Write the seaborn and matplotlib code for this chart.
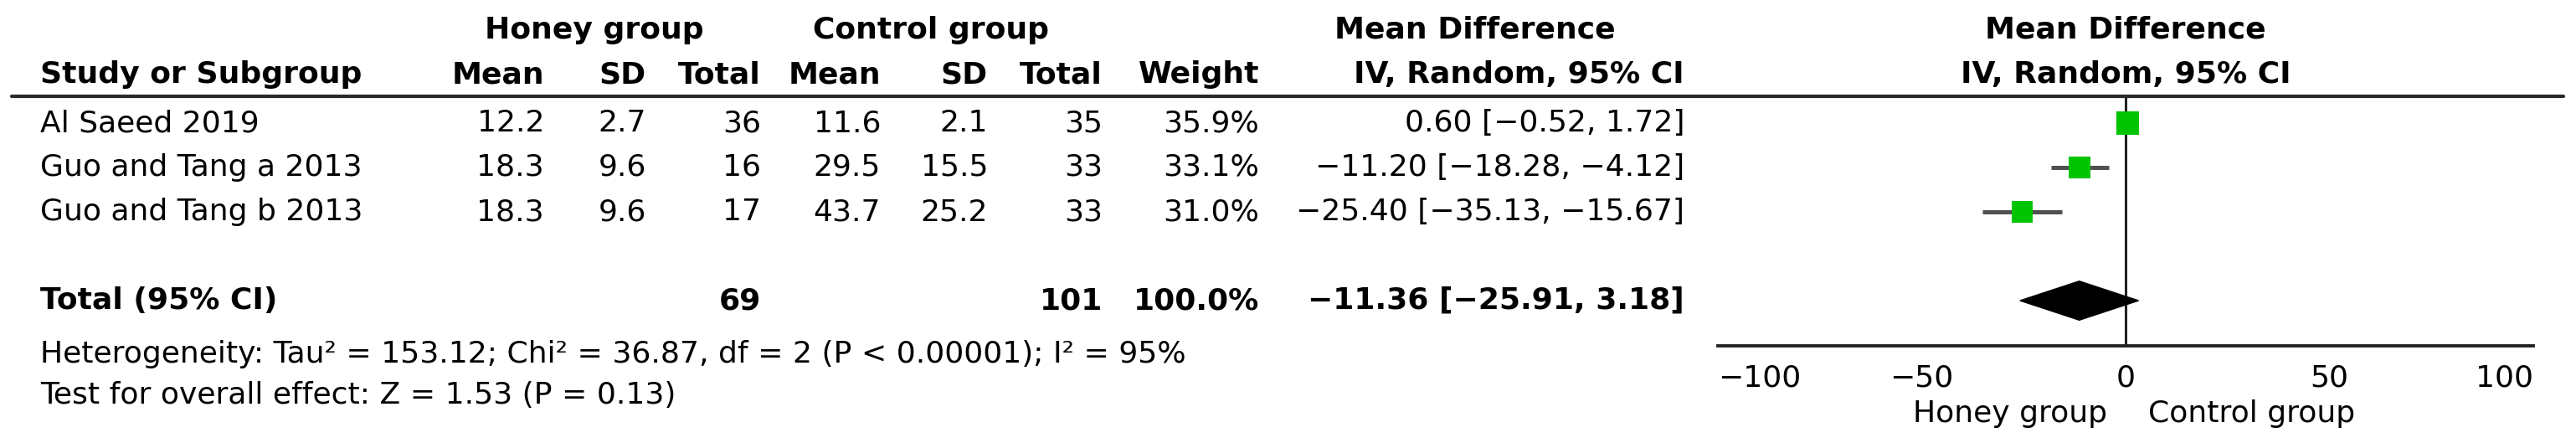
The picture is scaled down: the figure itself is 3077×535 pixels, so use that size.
import matplotlib
matplotlib.use('Agg')
import matplotlib.pyplot as plt
import matplotlib.transforms as mtransforms
from matplotlib.lines import Line2D
import pandas as pd
import seaborn as sns

# data
studies = ["Al Saeed 2019", "Guo and Tang a 2013", "Guo and Tang b 2013"]
honey_mean = [12.2, 18.3, 18.3]
honey_sd = [2.7, 9.6, 9.6]
honey_n = [36, 16, 17]
ctrl_mean = [11.6, 29.5, 43.7]
ctrl_sd = [2.1, 15.5, 25.2]
ctrl_n = [35, 33, 33]
weight = [35.9, 33.1, 31.0]
md = [0.60, -11.20, -25.40]
ci_lo = [-0.52, -18.28, -35.13]
ci_hi = [1.72, -4.12, -15.67]

total_honey_n = 69
total_ctrl_n = 101
total_weight = 100.0
total_md = -11.36
total_lo = -25.91
total_hi = 3.18

heterogeneity = "Heterogeneity: Tau² = 153.12; Chi² = 36.87, df = 2 (P < 0.00001); I² = 95%"
overall = "Test for overall effect: Z = 1.53 (P = 0.13)"
xticks = [-100, -50, 0, 50, 100]

sns.set_style('white')
plt.rcParams['font.family'] = ['DejaVu Sans']
plt.rcParams['text.color'] = 'black'
plt.rcParams['xtick.color'] = 'black'
plt.rcParams['axes.edgecolor'] = 'black'
FS = 26

W, H = 3077, 535
fig = plt.figure(figsize=(W / 100, H / 100), dpi=100)


def fx(px):
    return px / W


def fy(py):
    return 1 - py / H


# forest panel
ax_left, ax_right, ax_top, ax_bot = 2052, 3026, 115, 413
ax = fig.add_axes([fx(ax_left), fy(ax_bot), (ax_right - ax_left) / W, (ax_bot - ax_top) / H])
row_px, row_gap = 147, 53
ax.set_xlim(-100, 100)
ax.set_ylim((ax_bot - row_px) / row_gap, (ax_top - row_px) / row_gap)

df = pd.DataFrame({'row': range(len(studies)), 'md': md, 'lo': ci_lo, 'hi': ci_hi, 'weight': weight})
total_row = 4

ax.axvline(0, color='#222222', lw=2.2, zorder=1)
ax.hlines(df['row'], df['lo'], df['hi'], color='#505050', lw=3.6, zorder=2)
s_max = 380
sns.scatterplot(data=df, x='md', y='row', size='weight',
                sizes=(s_max * min(weight) / max(weight), s_max),
                marker='s', color='#00c400', linewidth=0, legend=False, ax=ax, zorder=3)
h = 0.44
ax.fill([total_lo, total_md, total_hi, total_md],
        [total_row, total_row - h, total_row, total_row + h], color='black', zorder=3)

for side in ['top', 'right', 'left']:
    ax.spines[side].set_visible(False)
ax.spines['bottom'].set_linewidth(2.8)
ax.spines['bottom'].set_color('#222222')
ax.set_yticks([])
ax.set_xticks(xticks)
ax.set_xticklabels([f"{t}".replace('-', '\u2212') for t in xticks])
ax.tick_params(axis='x', direction='inout', length=19, width=1.5, labelsize=FS, pad=6)
tl = ax.get_xticklabels()
tl[0].set_horizontalalignment('left')
tl[-1].set_horizontalalignment('right')
ax.set_xlabel('')
ax.set_ylabel('')

lab_tr = mtransforms.blended_transform_factory(ax.transData, fig.transFigure)
ax.text(-4.5, fy(494), 'Honey group', transform=lab_tr, ha='right', va='center', fontsize=FS)
ax.text(5.5, fy(494), 'Control group', transform=lab_tr, ha='left', va='center', fontsize=FS)
ax.text(0, fy(36), 'Mean Difference', transform=lab_tr, ha='center', va='center', fontsize=FS, weight='bold')
ax.text(0, fy(89), 'IV, Random, 95% CI', transform=lab_tr, ha='center', va='center', fontsize=FS, weight='bold')

# table headers
hdr = dict(va='center', fontsize=FS, weight='bold')
ci_right = 2012
fig.text(fx(710), fy(36), 'Honey group', ha='center', **hdr)
fig.text(fx(1112), fy(36), 'Control group', ha='center', **hdr)
fig.text(fx(1762), fy(36), 'Mean Difference', ha='center', **hdr)
fig.text(fx(48), fy(89), 'Study or Subgroup', ha='left', **hdr)
cols = [650, 772, 909, 1052, 1180, 1317, 1504]
for x, name in zip(cols, ['Mean', 'SD', 'Total', 'Mean', 'SD', 'Total', 'Weight']):
    fig.text(fx(x), fy(89), name, ha='right', **hdr)
fig.text(fx(ci_right), fy(89), 'IV, Random, 95% CI', ha='right', **hdr)
fig.add_artist(Line2D([fx(14), fx(3062)], [fy(115), fy(115)], transform=fig.transFigure,
                      color='#2a2a2a', lw=3))


def num(v, d):
    return f"{v:.{d}f}".replace('-', '\u2212')


row_tr = mtransforms.blended_transform_factory(fig.transFigure, ax.transData)
for i, name in enumerate(studies):
    ax.text(fx(48), i, name, transform=row_tr, ha='left', va='center', fontsize=FS)
    vals = [num(honey_mean[i], 1), num(honey_sd[i], 1), str(honey_n[i]),
            num(ctrl_mean[i], 1), num(ctrl_sd[i], 1), str(ctrl_n[i]), num(weight[i], 1) + '%']
    for x, v in zip(cols, vals):
        ax.text(fx(x), i, v, transform=row_tr, ha='right', va='center', fontsize=FS)
    ci = f"{num(md[i], 2)} [{num(ci_lo[i], 2)}, {num(ci_hi[i], 2)}]"
    ax.text(fx(ci_right), i, ci, transform=row_tr, ha='right', va='center', fontsize=FS)

bold = dict(transform=row_tr, va='center', fontsize=FS, weight='bold')
ax.text(fx(48), total_row, 'Total (95% CI)', ha='left', **bold)
ax.text(fx(cols[2]), total_row, str(total_honey_n), ha='right', **bold)
ax.text(fx(cols[5]), total_row, str(total_ctrl_n), ha='right', **bold)
ax.text(fx(cols[6]), total_row, num(total_weight, 1) + '%', ha='right', **bold)
ax.text(fx(ci_right), total_row, f"{num(total_md, 2)} [{num(total_lo, 2)}, {num(total_hi, 2)}]",
        ha='right', **bold)

fig.text(fx(48), fy(423), heterogeneity, ha='left', va='center', fontsize=FS)
fig.text(fx(48), fy(472), overall, ha='left', va='center', fontsize=FS)

fig.savefig('out.png', dpi=100)
